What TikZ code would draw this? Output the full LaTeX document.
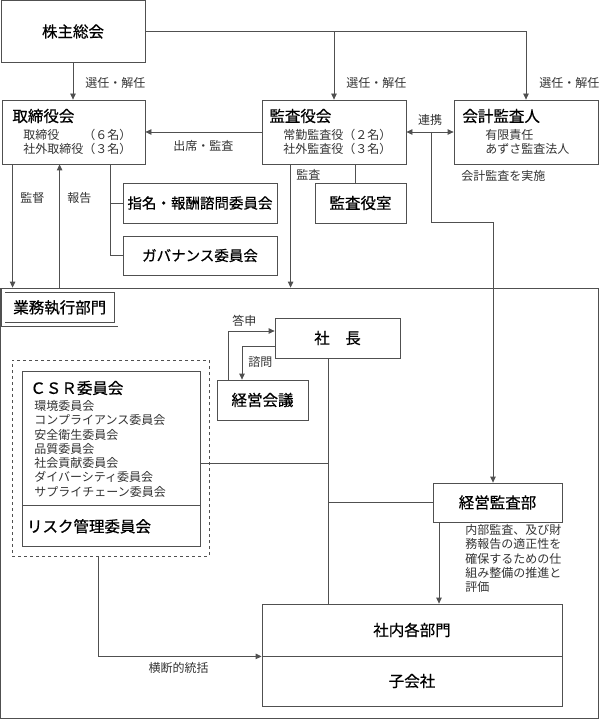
\documentclass[tikz,border=0pt]{standalone}
\usepackage{fontspec}
\setmainfont{Noto Sans CJK JP}
\newfontfamily\ttlfont[FakeBold=0.6]{Noto Sans CJK JP}
\usetikzlibrary{arrows.meta}
\definecolor{lc}{HTML}{505050}
\tikzset{
  bx/.style={draw=lc, line width=0.8pt, inner sep=0pt},
  ttl/.style={font=\ttlfont\fontsize{15.5}{18}\selectfont, text=black, inner sep=0pt},
  mid/.style={font=\ttlfont\fontsize{14.5}{17}\selectfont, text=black, inner sep=0pt},
  sml/.style={font=\fontsize{12}{14.3}\selectfont, text=black!80, inner sep=0pt},
  arr/.style={-{Triangle[length=6pt,width=5.5pt]}},
  arrb/.style={{Triangle[length=6pt,width=5.5pt]}-{Triangle[length=6pt,width=5.5pt]}}
}
\begin{document}
\begin{tikzpicture}[x=1pt,y=-1pt,line width=0.8pt,color=lc]
\useasboundingbox (0,0) rectangle (599,719);
% Organe
\node[bx,ttl,minimum width=144pt,minimum height=62pt] (gm) at (73,31.5) {株主総会};
\node[bx,minimum width=143pt,minimum height=64pt] (board) at (73.5,132) {};
\node[ttl,anchor=west] (boardT) at (12,116) {取締役会};
\node[sml,anchor=north west,align=left] (boardS) at (23,129) {取締役　　（６名）\\社外取締役（３名）};
\node[bx,minimum width=144pt,minimum height=64pt] (kansa) at (334,132) {};
\node[ttl,anchor=west] (kansaT) at (269,116) {監査役会};
\node[sml,anchor=north west,align=left] (kansaS) at (283,129) {常勤監査役（２名）\\社外監査役（３名）};
\node[bx,minimum width=144pt,minimum height=64pt] (kaikei) at (526,132) {};
\node[ttl,anchor=west] (kaikeiT) at (462,116) {会計監査人};
\node[sml,anchor=north west,align=left] (kaikeiS) at (485,129) {有限責任\\あずさ監査法人};
\node[bx,mid,minimum width=154pt,minimum height=40pt] (shimei) at (200,203) {指名・報酬諮問委員会};
\node[bx,mid,minimum width=154pt,minimum height=39pt] (gov) at (200,255.5) {ガバナンス委員会};
\node[bx,ttl,minimum width=91pt,minimum height=40pt] (kshitsu) at (360.5,203) {監査役室};
% Ausfuehrung
\node[bx,minimum width=598pt,minimum height=430.5pt] (exec) at (299.5,503.25) {};
\node[bx,ttl,double,double distance=2.5pt,minimum width=113pt,minimum height=34pt] (execL) at (59.75,307.5) {業務執行部門};
\node[bx,ttl,minimum width=125pt,minimum height=40pt] (pres) at (337.5,338) {社　長};
\node[bx,ttl,minimum width=91pt,minimum height=40pt] (kaigi) at (262.5,400) {経営会議};
\node[bx,dashed,minimum width=197pt,minimum height=196pt] (csrgrp) at (110.5,458) {};
\node[bx,minimum width=178pt,minimum height=134pt] (csr) at (111,438) {};
\node[ttl,anchor=west] (csrT) at (30,388) {ＣＳＲ委員会};
\node[sml,anchor=north west,align=left] (csrL) at (34,400) {環境委員会\\コンプライアンス委員会\\安全衛生委員会\\品質委員会\\社会貢献委員会\\ダイバーシティ委員会\\サプライチェーン委員会};
\node[bx,ttl,anchor=north,minimum width=178pt,minimum height=41pt,text width=168pt,align=left] (risk) at (csr.south) {リスク管理委員会};
\node[bx,ttl,minimum width=129pt,minimum height=39pt] (kkansa) at (497.5,502.5) {経営監査部};
\node[sml,anchor=north west,align=left] (kdesc) at (465,524) {内部監査、及び財\\務報告の適正性を\\確保するための仕\\組み整備の推進と\\評価};
\node[bx,ttl,minimum width=300pt,minimum height=52pt] (shanai) at (412,630) {社内各部門};
\node[bx,ttl,minimum width=300pt,minimum height=50pt] (kogai) at (412,681) {子会社};
% Verbindungen oben
\draw[arr] (gm.east) -| (kaikei.north);
\draw[arr] (gm.east -| kansa.north) -- (kansa.north);
\draw[arr] (gm.south) -- (gm.south |- board.north);
\draw[arr] (kansa.west) -- (board.east);
\draw[arrb] (kansa.east) -- (kaikei.west);
\coordinate (renk) at (431,132);
\draw[arr] (renk) -- (431,222) -| ([xshift=-4.5pt]kkansa.north);
\coordinate (b1) at ([xshift=11pt]board.south west);
\coordinate (b2) at ([xshift=58pt]board.south west);
\coordinate (b3) at ([xshift=109pt]board.south west);
\draw[arr] (b1) -- (b1 |- exec.north);
\draw[arr] (b2 |- exec.north) -- (b2);
\draw (b3) |- (gov.west);
\draw (b3 |- shimei.west) -- (shimei.west);
\coordinate (k1) at ([xshift=29pt]kansa.south west);
\coordinate (k2) at ([xshift=94pt]kansa.south west);
\draw[arr] (k1) -- (k1 |- exec.north);
\draw (k2) -- (k2 |- kshitsu.north);
% Verbindungen unten
\draw[arr] ([xshift=-34.5pt]kaigi.north) |- ([yshift=7pt]pres.west);
\draw[arr] ([yshift=-8pt]pres.west) -| ([xshift=-20.5pt]kaigi.north);
\coordinate (trunk) at ([xshift=-9.5pt]pres.south);
\draw (trunk) -- (trunk |- shanai.north);
\draw (kkansa.west) -- (trunk |- kkansa.west);
\coordinate (csrout) at ([yshift=-25pt]csr.east);
\draw (csrout) -- (trunk |- csrout);
\coordinate (kdown) at ([xshift=-58.5pt]kkansa.south);
\draw[arr] (kdown) -- (kdown |- shanai.north);
\draw[arr] ([xshift=-12.5pt]csrgrp.south) |- (shanai.south west);
% Beschriftungen
\node[sml,anchor=west] (sen1) at (85,83) {選任・解任};
\node[sml,anchor=west] (sen2) at (346,83) {選任・解任};
\node[sml,anchor=west] (sen3) at (539,83) {選任・解任};
\node[sml,anchor=west] (shus) at (173,146) {出席・監査};
\node[sml] (renkei) at (430,120) {連携};
\node[sml,anchor=west] (jisshi) at (461,176) {会計監査を実施};
\node[sml,anchor=west] (kansaL) at (296,175) {監査};
\node[sml,anchor=west] (kantoku) at (20,198) {監督};
\node[sml,anchor=west] (hokoku) at (67,198) {報告};
\node[sml,anchor=west] (toshin) at (232,321) {答申};
\node[sml,anchor=west] (shimon) at (248,362) {諮問};
\node[sml] (odan) at (178.5,668) {横断的統括};
\end{tikzpicture}
\end{document}
